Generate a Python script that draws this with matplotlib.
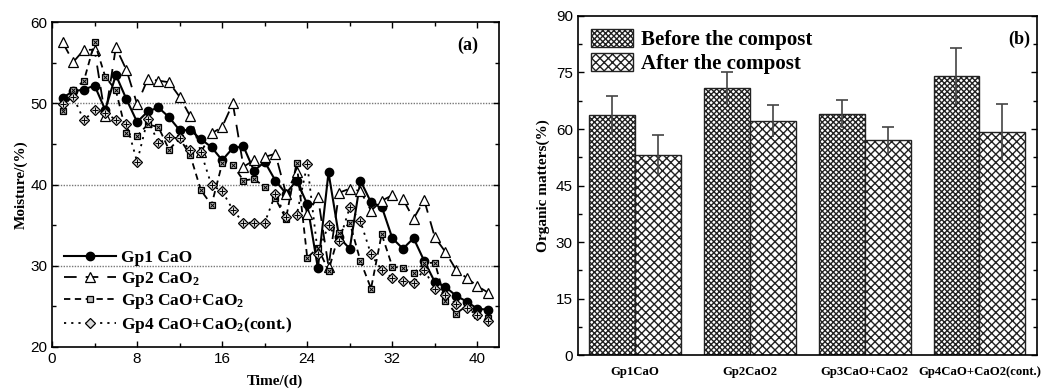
import matplotlib
matplotlib.use("Agg")
import matplotlib.pyplot as plt
import numpy as np

plt.rcParams['font.family'] = ['Liberation Sans', 'DejaVu Sans']
plt.rcParams['mathtext.fontset'] = 'custom'
plt.rcParams['mathtext.rm'] = 'Liberation Serif:bold'
plt.rcParams['mathtext.it'] = 'Liberation Serif:bold'
plt.rcParams['mathtext.bf'] = 'Liberation Serif:bold'
plt.rcParams['hatch.linewidth'] = 1.0

# ---------------- data ----------------
days = list(range(1, 42))
gp1 = [50.7, 51.5, 51.7, 52.2, 49.2, 53.5, 50.5, 47.7, 49.0, 49.5,
       48.3, 46.7, 46.7, 45.6, 44.6, 43.0, 44.5, 44.7, 41.7, 42.8,
       40.5, 38.9, 40.5, 37.6, 29.7, 41.5, 33.5, 32.1, 40.5, 37.8,
       37.3, 33.4, 32.1, 33.4, 30.6, 28.0, 27.4, 26.3, 25.6, 24.7, 24.6]
gp2 = [57.5, 55.1, 56.6, 56.6, 48.4, 56.9, 54.1, 49.9, 53.0, 52.8,
       52.6, 50.8, 48.4, 44.0, 46.3, 47.1, 50.0, 42.2, 43.0, 43.4,
       43.8, 38.9, 41.5, 36.4, 38.5, 29.9, 39.0, 39.5, 39.2, 36.8,
       38.0, 38.7, 38.2, 35.8, 38.1, 33.5, 31.7, 29.5, 28.5, 27.5, 26.7]
gp3 = [49.0, 51.6, 52.8, 57.5, 53.3, 51.6, 46.3, 46.0, 47.4, 47.1,
       44.3, 45.7, 43.6, 39.3, 37.5, 42.6, 42.4, 40.5, 40.7, 39.7,
       38.3, 35.8, 42.7, 31.0, 32.2, 29.4, 34.0, 35.3, 30.6, 27.2,
       33.9, 29.9, 29.7, 29.1, 30.3, 30.4, 25.7, 24.1, 25.1, 23.9, 23.6]
gp4 = [49.9, 50.8, 47.9, 49.2, 48.8, 48.0, 47.5, 42.8, 48.1, 45.1,
       45.8, 45.7, 44.2, 44.0, 39.9, 39.2, 36.9, 35.3, 35.3, 35.3,
       38.8, 36.0, 36.2, 42.5, 31.5, 35.0, 33.0, 37.2, 35.5, 31.4,
       29.5, 28.5, 28.1, 27.9, 29.5, 27.2, 26.4, 25.3, 24.8, 23.9, 23.2]
series_labels = ['Gp1 CaO', 'Gp2 CaO$_2$', 'Gp3 CaO+CaO$_2$', 'Gp4 CaO+CaO$_2$(cont.)']

groups = ['Gp1CaO', 'Gp2CaO2', 'Gp3CaO+CaO2', 'Gp4CaO+CaO2(cont.)']
before = [63.8, 70.8, 64.0, 74.0]
before_err = [5.0, 4.3, 3.6, 7.4]
after = [53.1, 62.1, 57.0, 59.2]
after_err = [5.3, 4.3, 3.5, 7.4]
bar_labels = ['Before the compost', 'After the compost']

serif = 'Liberation Serif'

fig = plt.figure(figsize=(10.41, 3.89), dpi=100)

# ---------------- panel (a) ----------------
ax = fig.add_axes([0.050, 0.108, 0.429, 0.835])
ax.plot(days, gp1, color='black', lw=1.5, ls='-', marker='o', ms=6,
        mfc='black', mec='black', label=series_labels[0])
ax.plot(days, gp2, color='black', lw=1.3, ls=(0, (7, 5)), marker='^', ms=7.5,
        mfc='white', mec='black', mew=0.9, label=series_labels[1])
ax.plot(days, gp3, color='black', lw=1.3, ls=(0, (3.5, 2.5)), marker='s', ms=5,
        mfc='#bdbdbd', mec='black', mew=0.9, label=series_labels[2])
ax.plot(days, gp3, ls='none', marker='x', ms=3.5, mec='black', mew=0.7)
ax.plot(days, gp4, color='black', lw=1.3, ls=(0, (1.2, 2.8)), marker='D', ms=5,
        mfc='#d9d9d9', mec='black', mew=0.9, label=series_labels[3])
ax.plot(days, gp4, ls='none', marker='+', ms=4.5, mec='black', mew=0.7)

ax.set_xlim(0, 42)
ax.set_ylim(20, 60)
ax.set_xticks([0, 8, 16, 24, 32, 40])
ax.set_xticks([4, 12, 20, 28, 36], minor=True)
ax.set_yticks([20, 30, 40, 50, 60])
ax.set_yticks([25, 35, 45, 55], minor=True)
for yv in [30, 40, 50]:
    ax.axhline(yv, color='#777777', lw=1.0, ls=(0, (1, 1)), zorder=0)
ax.tick_params(which='both', direction='in', top=True, right=True, labelsize=11)
ax.tick_params(which='major', length=4, width=1)
ax.tick_params(which='minor', length=3, width=1)
for s in ax.spines.values():
    s.set_linewidth(1.2)
ax.set_ylabel('Moisture/(%)', fontfamily=serif, fontweight='bold', fontsize=11, labelpad=2)
ax.set_xlabel('Time/(d)', fontfamily=serif, fontweight='bold', fontsize=11, labelpad=6)
ax.text(0.955, 0.93, '(a)', transform=ax.transAxes, ha='right', va='center',
        fontfamily=serif, fontweight='bold', fontsize=13)
leg = ax.legend(loc='lower left', bbox_to_anchor=(0.0, 0.0), frameon=False,
                prop={'family': serif, 'weight': 'bold', 'size': 12.5},
                handlelength=3.0, handletextpad=0.3, labelspacing=0.2,
                borderaxespad=0.3)

# ---------------- panel (b) ----------------
bx = fig.add_axes([0.555, 0.087, 0.441, 0.872])
x = np.arange(len(groups))
w = 0.40
b1 = bx.bar(x - w / 2, before, w, facecolor='white', edgecolor='#222222',
            hatch='xxxxxx', lw=1.0, label=bar_labels[0], zorder=2)
b2 = bx.bar(x + w / 2, after, w, facecolor='white', edgecolor='#222222',
            hatch='xxxx', lw=1.0, label=bar_labels[1], zorder=2)
for xs, vals, errs in [(x - w / 2, before, before_err), (x + w / 2, after, after_err)]:
    bx.errorbar(xs, vals, yerr=errs, fmt='none', ecolor='#444444', elinewidth=1.2,
                capsize=0, zorder=3)
    bx.plot(xs, np.array(vals) + np.array(errs), ls='none', marker='_', ms=9,
            mew=1.2, color='#444444', zorder=3)

bx.set_xlim(-0.5, 3.5)
bx.set_ylim(0, 90)
bx.set_yticks([0, 15, 30, 45, 60, 75, 90])
bx.set_yticks(np.arange(7.5, 90, 15), minor=True)
bx.set_xticks(x)
bx.set_xticklabels(groups, fontfamily=serif, fontweight='bold', fontsize=9.2)
bx.tick_params(axis='x', length=0, pad=8)
bx.tick_params(axis='y', which='both', direction='in', right=True, labelsize=11)
bx.tick_params(axis='y', which='major', length=4, width=1)
bx.tick_params(axis='y', which='minor', length=3, width=1)
for s in bx.spines.values():
    s.set_linewidth(1.2)
bx.set_ylabel('Organic matters(%)', fontfamily=serif, fontweight='bold', fontsize=11, labelpad=4)
bx.text(0.985, 0.93, '(b)', transform=bx.transAxes, ha='right', va='center',
        fontfamily=serif, fontweight='bold', fontsize=13)
bx.legend(loc='upper left', frameon=False,
          prop={'family': serif, 'weight': 'bold', 'size': 15},
          handlelength=2.0, handleheight=0.9, handletextpad=0.4,
          labelspacing=0.15, borderaxespad=0.25)

fig.savefig('out.png', dpi=100)
